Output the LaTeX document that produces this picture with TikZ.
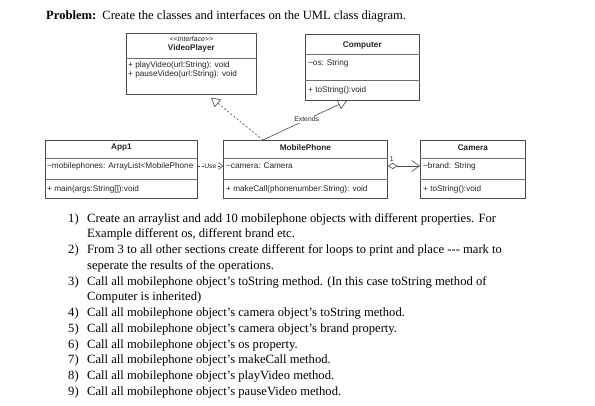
\documentclass[tikz,border=0pt]{standalone}
\usepackage{fontspec}
\setmainfont{Liberation Serif}
\newfontfamily\umlf{Liberation Sans}
\usetikzlibrary{arrows.meta,calc}
\definecolor{umlc}{HTML}{4A4A4A}
\definecolor{umlt}{HTML}{262626}
\begin{document}
\begin{tikzpicture}[x=1pt,y=-1pt,
  umlbox/.style={draw=umlc, line width=0.7pt, inner sep=0pt, anchor=north west, fill=white},
  sepline/.style={draw=umlc!80, line width=0.5pt},
  ttl/.style={font=\umlf\fontsize{8.2}{9}\selectfont\bfseries, inner sep=0pt, text=umlt},
  stereo/.style={font=\umlf\fontsize{7}{7}\selectfont\itshape, inner sep=0pt, text=umlt},
  mem/.style={font=\umlf\fontsize{8.2}{9}\selectfont, inner sep=0pt, anchor=west, text=umlt},
  conn/.style={draw=umlc, line width=0.6pt},
  dashconn/.style={conn, dash pattern=on 2pt off 2pt},
  clabel/.style={font=\umlf\fontsize{6.8}{7}\selectfont, inner sep=0.6pt, fill=white, text=umlt},
  lst/.style={font=\fontsize{12.6}{14}\selectfont, inner sep=0pt, anchor=base west},
]
\useasboundingbox (0,0) rectangle (595,405);

% title
\node[lst] (title) at (46,19) {\textbf{Problem:}\hspace{6pt}Create the classes and interfaces on the UML class diagram.};

% classes
\node[umlbox, minimum width=130pt, minimum height=61pt] (vp) at (126,33) {};
\draw[sepline] ($(vp.north west)+(0,25)$) -- ($(vp.north east)+(0,25)$);
\node[stereo] (vpst) at ($(vp.north)+(0,6)$) {<{}<Interface>{}>};
\node[ttl] (vpt) at ($(vp.north)+(0,15)$) {VideoPlayer};
\node[mem] (vpm1) at ($(vp.north west)+(2,32)$) {+ playVideo(url:String): void};
\node[mem] (vpm2) at ($(vp.north west)+(2,41)$) {+ pauseVideo(url:String): void};

\node[umlbox, minimum width=114pt, minimum height=66pt] (comp) at (305,34) {};
\draw[sepline] ($(comp.north west)+(0,20)$) -- ($(comp.north east)+(0,20)$);
\draw[sepline] ($(comp.north west)+(0,46)$) -- ($(comp.north east)+(0,46)$);
\node[ttl] (compt) at ($(comp.north)+(0,11)$) {Computer};
\node[mem] (compa) at ($(comp.north west)+(3,29)$) {\textasciitilde os: String};
\node[mem] (compm) at ($(comp.north west)+(3,56)$) {+ toString():void};

\node[umlbox, minimum width=152pt, minimum height=58pt] (app) at (45,140) {};
\draw[sepline] ($(app.north west)+(0,18)$) -- ($(app.north east)+(0,18)$);
\draw[sepline] ($(app.north west)+(0,39)$) -- ($(app.north east)+(0,39)$);
\node[ttl] (appt) at ($(app.north)+(0,8)$) {App1};
\node[mem] (appa) at ($(app.north west)+(2,26)$) {\textasciitilde mobilephones: ArrayList<MobilePhone};
\node[mem] (appm) at ($(app.north west)+(2,49)$) {+ main(args:String[]):void};

\node[umlbox, minimum width=164pt, minimum height=58pt] (mp) at (223,140) {};
\draw[sepline] ($(mp.north west)+(0,18)$) -- ($(mp.north east)+(0,18)$);
\draw[sepline] ($(mp.north west)+(0,39)$) -- ($(mp.north east)+(0,39)$);
\node[ttl] (mpt) at ($(mp.north)+(0,8)$) {MobilePhone};
\node[mem] (mpa) at ($(mp.north west)+(3,26)$) {\textasciitilde camera: Camera};
\node[mem] (mpm) at ($(mp.north west)+(3,49)$) {+ makeCall(phonenumber:String): void};

\node[umlbox, minimum width=105pt, minimum height=58pt] (cam) at (420,140) {};
\draw[sepline] ($(cam.north west)+(0,18)$) -- ($(cam.north east)+(0,18)$);
\draw[sepline] ($(cam.north west)+(0,39)$) -- ($(cam.north east)+(0,39)$);
\node[ttl] (camt) at ($(cam.north)+(0,8)$) {Camera};
\node[mem] (cama) at ($(cam.north west)+(3,26)$) {\textasciitilde brand: String};
\node[mem] (camm) at ($(cam.north west)+(3,49)$) {+ toString():void};

% connectors
\coordinate (mptop) at ($(mp.north west)+(40,0)$);
\coordinate (vptip) at ($(vp.south west)+(85,3)$);
\coordinate (comptip) at ($(comp.south west)+(42,0)$);
\draw[dashconn, -{Triangle[open,length=9pt,width=10pt]}] (mptop) -- (vptip);
\draw[conn, -{Triangle[open,length=9pt,width=10pt]}] (mptop) -- (comptip)
  node[clabel, pos=0.52] (ext) {Extends};
\draw[dashconn, -{Straight Barb[length=4pt,width=7pt]}] ($(app.north east)+(0,26)$) -- ($(mp.north west)+(0,26)$)
  node[clabel, midway] (use) {Use};
\draw[conn, {Diamond[open,length=10pt,width=6pt]}-{Straight Barb[length=8pt,width=11pt]}] ($(mp.north east)+(0,26)$) -- ($(cam.north west)+(0,26)$);
\node[font=\umlf\fontsize{6.8}{7}\selectfont, inner sep=0pt, text=umlt] (mult) at ($(mp.north east)+(4,19)$) {1};

% list
\foreach \n/\k in {1/0,2/2,3/4,4/6,5/7,6/8,7/9,8/10,9/11}{
  \node[lst] (num\n) at (68,222+15.75*\k) {\n)};
}
\node[lst] (l1a) at (87,222) {Create an arraylist and add 10 mobilephone objects with different properties. For};
\node[lst] (l1b) at (87,222+15.75) {Example different os, different brand etc.};
\node[lst] (l2a) at (87,222+15.75*2) {From 3 to all other sections create different for loops to print and place -{}-{}- mark to};
\node[lst] (l2b) at (87,222+15.75*3) {seperate the results of the operations.};
\node[lst] (l3a) at (87,222+15.75*4) {Call all mobilephone object’s toString method. (In this case toString method of};
\node[lst] (l3b) at (87,222+15.75*5) {Computer is inherited)};
\node[lst] (l4) at (87,222+15.75*6) {Call all mobilephone object’s camera object’s toString method.};
\node[lst] (l5) at (87,222+15.75*7) {Call all mobilephone object’s camera object’s brand property.};
\node[lst] (l6) at (87,222+15.75*8) {Call all mobilephone object’s os property.};
\node[lst] (l7) at (87,222+15.75*9) {Call all mobilephone object’s makeCall method.};
\node[lst] (l8) at (87,222+15.75*10) {Call all mobilephone object’s playVideo method.};
\node[lst] (l9) at (87,222+15.75*11) {Call all mobilephone object’s pauseVideo method.};
\end{tikzpicture}
\end{document}
